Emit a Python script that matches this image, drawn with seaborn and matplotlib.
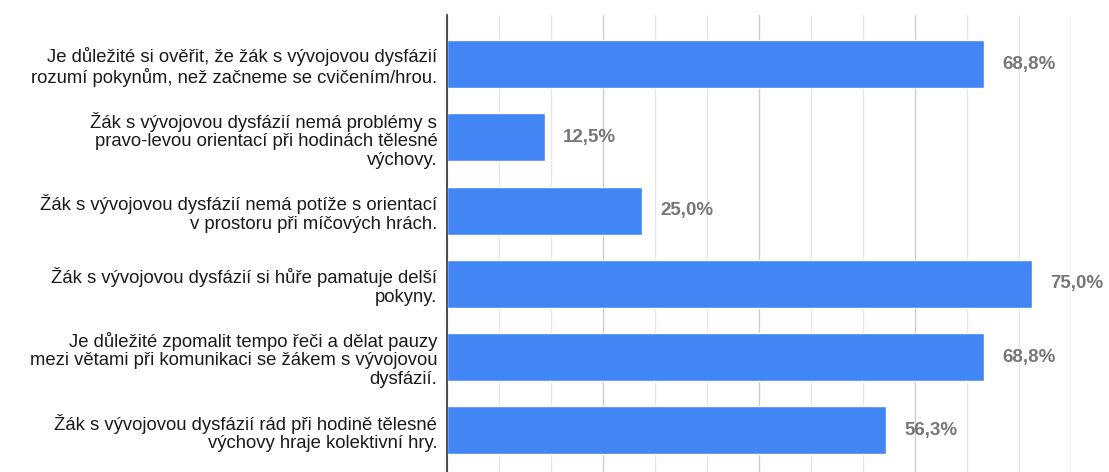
import numpy as np
import pandas as pd
import matplotlib
matplotlib.use("Agg")
import matplotlib.pyplot as plt
import seaborn as sns

categories = [
    "Je důležité si ověřit, že žák s vývojovou dysfázií\nrozumí pokynům, než začneme se cvičením/hrou.",
    "Žák s vývojovou dysfázií nemá problémy s\npravo-levou orientací při hodinách tělesné\nvýchovy.",
    "Žák s vývojovou dysfázií nemá potíže s orientací\nv prostoru při míčových hrách.",
    "Žák s vývojovou dysfázií si hůře pamatuje delší\npokyny.",
    "Je důležité zpomalit tempo řeči a dělat pauzy\nmezi větami při komunikaci se žákem s vývojovou\ndysfázií.",
    "Žák s vývojovou dysfázií rád při hodině tělesné\nvýchovy hraje kolektivní hry.",
]
values = [68.8, 12.5, 25.0, 75.0, 68.8, 56.3]
value_labels = ["68,8%", "12,5%", "25,0%", "75,0%", "68,8%", "56,3%"]

sns.set_style("white")
plt.rcParams['font.family'] = ['Liberation Sans', 'DejaVu Sans']

df = pd.DataFrame({"cat": categories, "val": values})

fig = plt.figure(figsize=(11.09, 4.72), dpi=100)
ax = fig.add_axes([447/1109, 0.0, (1071-447)/1109, 1 - 15/472])

sns.barplot(data=df, x="val", y="cat", orient="h", color="#4285F4",
            saturation=1, width=0.655, ax=ax)

ax.set_xlim(0, 80)
ax.set_ylim(5.57, -0.67)
ax.set_xlabel("")
ax.set_ylabel("")

ax.set_xticks(np.arange(0, 81, 20))
ax.set_xticks(np.arange(0, 81, 20/3), minor=True)
ax.grid(True, which="major", axis="x", color="#cccccc", linewidth=1.0)
ax.grid(True, which="minor", axis="x", color="#e6e6e6", linewidth=1.0)
ax.set_axisbelow(True)
ax.tick_params(axis="x", which="both", length=0, labelbottom=False)
ax.tick_params(axis="y", length=0, pad=7, labelsize=13.3, labelcolor="#1a1a1a")
for lab in ax.get_yticklabels():
    lab.set_horizontalalignment("right")
    lab.set_multialignment("right")
    lab.set_linespacing(1.12)

for s in ["top", "right", "bottom"]:
    ax.spines[s].set_visible(False)
ax.spines["left"].set_color("#333333")
ax.spines["left"].set_linewidth(1.2)

for i, (v, t) in enumerate(zip(values, value_labels)):
    ax.text(v + 2.4, i, t, va="center", ha="left", fontsize=13.5,
            fontweight="bold", color="#777777")

fig.savefig("out.png", dpi=100)
